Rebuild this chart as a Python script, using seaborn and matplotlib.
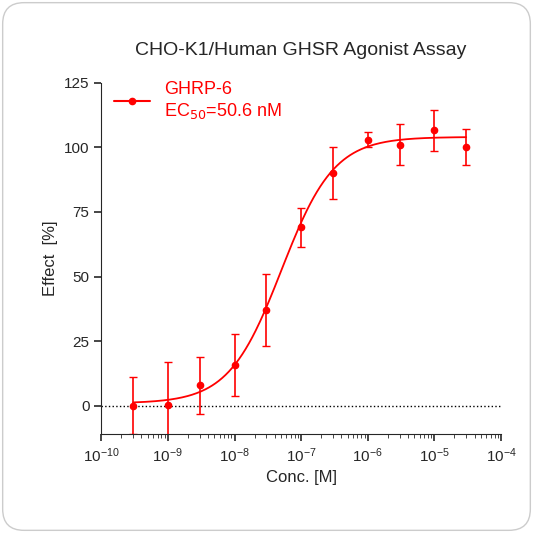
import numpy as np
import matplotlib
matplotlib.use("Agg")
import matplotlib.pyplot as plt
import seaborn as sns
from matplotlib.patches import FancyBboxPatch

conc = [3e-10, 1e-9, 3e-9, 1e-8, 3e-8, 1e-7, 3e-7, 1e-6, 3e-6, 1e-5, 3e-5]
effect = [0, 0.5, 8, 16, 37, 69, 90, 103, 101, 106.5, 100]
err = [11, 16.5, 11, 12, 14, 7.5, 10, 3, 8, 8, 7]
bottom, top, ec50, hill = 1.0, 104.0, 5.06e-8, 1.1

sns.set_style("ticks")
plt.rcParams['font.family'] = ['Liberation Sans', 'DejaVu Sans']
fig = plt.figure(figsize=(5.33, 5.33), dpi=100)
bg = FancyBboxPatch((0.005, 0.005), 0.99, 0.99, boxstyle="round,pad=0,rounding_size=0.04",
                    transform=fig.transFigure, fc="white", ec="#cccccc", lw=1, zorder=-10)
fig.patches.append(bg)
ax = fig.add_axes([0.19, 0.185, 0.75, 0.66])
ax.set_zorder(5)
ax.patch.set_alpha(0)
xs = np.logspace(np.log10(3e-10), np.log10(3e-5), 300)
ys = bottom + (top - bottom) / (1 + (ec50 / xs) ** hill)
red = "#ff0000"
sns.lineplot(x=xs, y=ys, ax=ax, color=red, lw=1.3)
ax.errorbar(conc, effect, yerr=err, fmt="o", color=red, ms=4.5, capsize=3, lw=1.2)
ax.plot([], [], "-o", color=red, ms=4.5, label="GHRP-6\nEC$_{50}$=50.6 nM")
ax.axhline(0, color="k", ls=":", lw=1)
ax.set_xscale("log")
ax.set_xlim(1e-10, 1e-4)
ax.set_ylim(-11, 125)
ax.set_yticks([0, 25, 50, 75, 100, 125])
ax.set_xticks([10.0**k for k in range(-10, -3)])
ax.tick_params(labelsize=11, width=1.2, length=5)
ax.tick_params(which="minor", length=3)
sns.despine(ax=ax)
ax.set_xlabel("Conc. [M]", fontsize=12)
ax.set_ylabel("Effect  [%]", fontsize=12)
ax.set_title("CHO-K1/Human GHSR Agonist Assay", fontsize=14, pad=20)
leg = ax.legend(loc="upper left", frameon=False, fontsize=13, handlelength=2, bbox_to_anchor=(-0.01, 1.05))
for t in leg.get_texts():
    t.set_color(red)
fig.savefig("out.png", dpi=100)
